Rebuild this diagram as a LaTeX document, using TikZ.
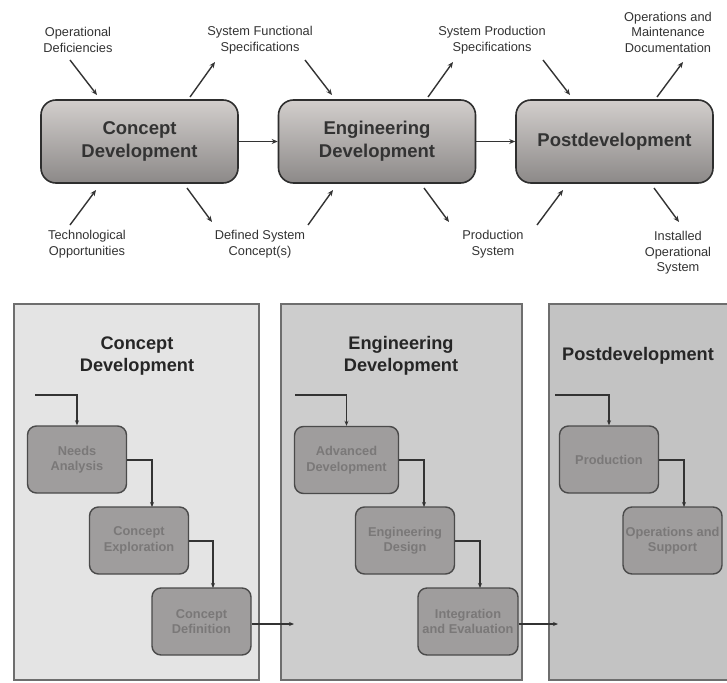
\documentclass[tikz,border=0pt]{standalone}
\usepackage{fontspec}
\setmainfont{Liberation Sans}
\usetikzlibrary{arrows.meta}
\definecolor{txt}{HTML}{333333}
\definecolor{bigtop}{HTML}{D2CECC}
\definecolor{bigbot}{HTML}{8C8988}
\definecolor{pone}{HTML}{E4E4E4}
\definecolor{ptwo}{HTML}{CDCDCD}
\definecolor{pthree}{HTML}{C3C3C3}
\definecolor{pborder}{HTML}{6E6E6E}
\definecolor{subfill}{HTML}{9F9D9D}
\definecolor{subtext}{HTML}{7A7878}
\definecolor{subborder}{HTML}{4A4A4A}
\tikzset{
  bigbox/.style={draw=txt!90!black, line width=1.6pt, rounded corners=15pt,
    top color=bigtop, bottom color=bigbot, minimum width=197pt, minimum height=83pt,
    inner sep=0pt, font=\bfseries\fontsize{18.5}{23}\selectfont, text=txt, align=center},
  lbl/.style={font=\fontsize{12.8}{15.5}\selectfont, text=txt, align=center, inner sep=0pt},
  ioarrow/.style={-{Stealth[length=6pt,width=5pt]}, line width=1.4pt, draw=txt},
  flowarrow/.style={-{Stealth[length=5pt,width=4pt]}, line width=1.2pt, draw=txt},
  panel/.style={draw=pborder, line width=1.8pt, inner sep=0pt},
  ptitle/.style={font=\bfseries\fontsize{18.2}{22}\selectfont, text=black!85, align=center, inner sep=0pt},
  subbox/.style={draw=subborder, line width=1.4pt, rounded corners=9pt, fill=subfill,
    minimum width=99pt, minimum height=67pt, inner sep=0pt,
    font=\bfseries\fontsize{12.8}{15.5}\selectfont, text=subtext, align=center},
  stepline/.style={-{Stealth[length=5pt,width=4pt]}, line width=1.1pt, draw=black!80},
}
\begin{document}
\begin{tikzpicture}[x=1pt,y=-1pt]
\useasboundingbox (0,0) rectangle (727,682);
\fill[white] (0,0) rectangle (727,682);

% ---------- top row ----------
\node[bigbox] (cd) at (139.5,141.5) {Concept\\Development};
\node[bigbox] (ed) at (377,141.5) {Engineering\\Development};
\node[bigbox] (pd) at (614.5,141.5) {Postdevelopment};
\draw[ioarrow] (cd.east) -- (ed.west);
\draw[ioarrow] (ed.east) -- (pd.west);

\node[lbl] (opdef) at (78,40) {Operational\\Deficiencies};
\node[lbl] (sfs) at (260,40) {System Functional\\Specifications};
\node[lbl] (sps) at (492,40) {System Production\\Specifications};
\node[lbl] (omd) at (668,32) {Operations and\\Maintenance\\Documentation};
\node[lbl] (tech) at (87,244) {Technological\\Opportunities};
\node[lbl] (dsc) at (260,244) {Defined System\\Concept(s)};
\node[lbl] (ps) at (493,244) {Production\\System};
\node[lbl] (ios) at (678,253) {Installed\\Operational\\System};

\coordinate (a1s) at (70,60);  \coordinate (a1e) at (97,95);
\coordinate (a2s) at (190,97); \coordinate (a2e) at (215,62);
\coordinate (a3s) at (305,60); \coordinate (a3e) at (332,95);
\coordinate (a4s) at (428,97); \coordinate (a4e) at (453,62);
\coordinate (a5s) at (543,60); \coordinate (a5e) at (570,95);
\coordinate (a6s) at (657,97); \coordinate (a6e) at (683,62);
\coordinate (b1s) at (70,225); \coordinate (b1e) at (96,190);
\coordinate (b2s) at (187,188);\coordinate (b2e) at (212,222);
\coordinate (b3s) at (308,225);\coordinate (b3e) at (333,190);
\coordinate (b4s) at (424,188);\coordinate (b4e) at (449,222);
\coordinate (b5s) at (537,225);\coordinate (b5e) at (563,190);
\coordinate (b6s) at (654,188);\coordinate (b6e) at (679,222);
\foreach \n in {a1,a2,a3,a4,a5,a6,b1,b2,b3,b4,b5,b6}
  \draw[ioarrow] (\n s) -- (\n e);

% ---------- bottom panels ----------
\node[panel, fill=pone, minimum width=245pt, minimum height=376pt] (p1) at (136.5,492) {};
\node[panel, fill=ptwo, minimum width=241pt, minimum height=376pt] (p2) at (401.5,492) {};
\fill[pthree] (549,304) rectangle (727,680);
\draw[pborder, line width=1.8pt] (727,304) -- (549,304) -- (549,680) -- (727,680);
\coordinate (p3w) at (549,623);

\node[ptitle] (t1) at (137,356) {Concept\\Development};
\node[ptitle] (t2) at (401,356) {Engineering\\Development};
\node[ptitle] (t3) at (638,356) {Postdevelopment};

\node[subbox] (na) at (77,459.5) {Needs\\Analysis};
\node[subbox] (ce) at (139,540.5) {Concept\\Exploration};
\node[subbox] (cdf) at (201.5,621.5) {Concept\\Definition};

\node[subbox, minimum width=104pt] (ad) at (346.5,460) {Advanced\\Development};
\node[subbox] (eds) at (405,540.5) {Engineering\\Design};
\node[subbox, minimum width=100pt] (ie) at (468,621.5) {Integration\\and Evaluation};

\node[subbox] (pr) at (609,459.5) {Production};
\node[subbox] (os) at (672.5,540.5) {Operations and\\Support};

\coordinate (in1) at (35,395);
\coordinate (in2) at (295,395);
\coordinate (in3) at (555,395);

\draw[stepline] (in1) -| (na.north);
\draw[stepline] (na.east |- 0,460) -| (152,507);
\draw[stepline] (ce.east |- 0,541) -| (213,588);
\draw[stepline] (cdf.east |- 0,624) -- (294,624);

\draw[stepline] (in2) -| (ad.north);
\draw[stepline] (ad.east |- 0,460) -| (424,507);
\draw[stepline] (eds.east |- 0,541) -| (480,588);
\draw[stepline] (ie.east |- 0,624) -- (558,624);

\draw[stepline] (in3) -| (pr.north);
\draw[stepline] (pr.east |- 0,460) -| (684,507);
\end{tikzpicture}
\end{document}
